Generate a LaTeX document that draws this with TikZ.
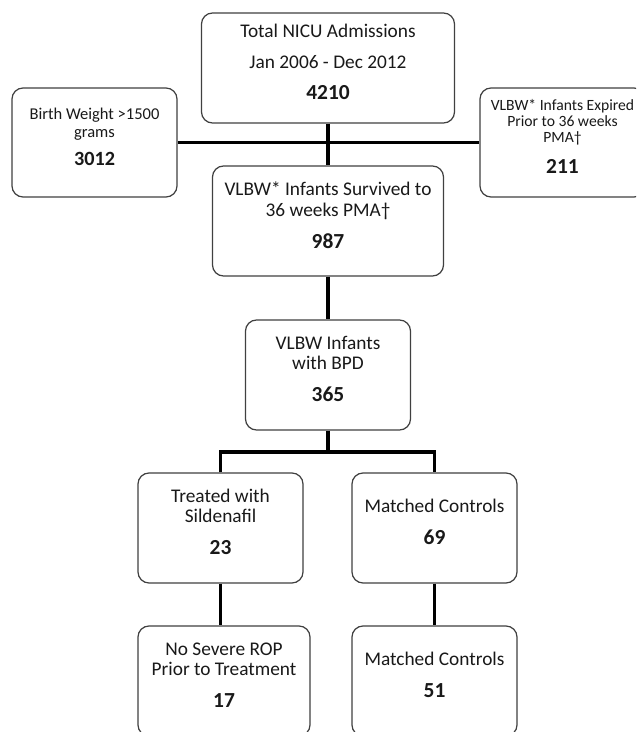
\documentclass[tikz,border=0pt]{standalone}
\usepackage{fontspec}
\setmainfont{Carlito}
\newcommand{\cifra}[2][12.2]{{\fontsize{#1}{14}\selectfont\bfseries #2}}

\begin{document}
\begin{tikzpicture}[
    caja/.style={draw=black!75, line width=0.7pt, rounded corners=0.22cm, fill=white,
        minimum width=3.3cm, minimum height=2.2cm, align=center, inner sep=2pt,
        text=black!90, font=\fontsize{11}{11.6}\selectfont,
        execute at end node={\rule[-0.24cm]{0pt}{0.24cm}}},
    linea/.style={line width=1.9pt}]

    \path[use as bounding box] (0,0) rectangle (12.72,14.64);
    \clip (0,0) rectangle (12.72,14.64);

    % nivel superior
    \node [caja, minimum width=5.06cm, at={(6.56,13.28)}] (total)
        {Total NICU Admissions\\[6pt]Jan 2006 - Dec 2012\\[6pt]\cifra{4210}};
    \node [caja, minimum height=2.18cm, font=\fontsize{9.4}{10.2}\selectfont, at={(1.89,11.79)}] (bw)
        {Birth Weight >1500\\grams\\[5.7pt]\cifra[11.5]{3012}};
    \node [caja, minimum height=2.18cm, font=\fontsize{8.9}{9.1}\selectfont, at={(11.25,11.79)}] (expired)
        {VLBW* Infants Expired\\Prior to 36 weeks\\PMA†\\[7.3pt]\cifra{211}};
    \node [caja, minimum width=4.62cm, at={(6.56,10.22)}] (survived)
        {VLBW* Infants Survived to\\36 weeks PMA†\\[6.6pt]\cifra{987}};

    \node [caja, at={(6.56,7.14)}] (bpd)
        {VLBW Infants\\with BPD\\[6.6pt]\cifra{365}};

    % grupos
    \node [caja, at={(4.41,4.08)}] (sildenafil)
        {Treated with\\Sildenafil\\[6.6pt]\cifra{23}};
    \node [caja, at={(8.69,4.08)}] (controls)
        {Matched Controls\\[6.6pt]\cifra{69}};
    \node [caja, minimum width=3.44cm, at={(4.48,1.02)}] (norop)
        {No Severe ROP\\Prior to Treatment\\[6.6pt]\cifra{17}};
    \node [caja, at={(8.69,1.02)}] (controlsb)
        {Matched Controls\\[6.6pt]\cifra{51}};

    \coordinate (rama) at (6.56,5.6);

    \draw[linea] (total) -- (survived);
    \draw[linea] (bw) -- (expired);
    \draw[linea] (survived) -- (bpd);
    \draw[linea] (bpd) -- (rama);
    \draw[linea] (sildenafil) |- (rama) -| (controls);
    \draw[linea] (sildenafil) -- (sildenafil |- norop.north);
    \draw[linea] (controls) -- (controlsb);
\end{tikzpicture}
\end{document}
